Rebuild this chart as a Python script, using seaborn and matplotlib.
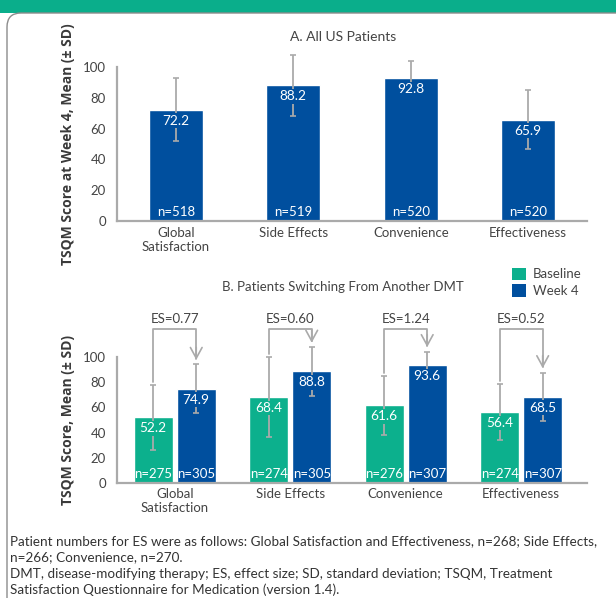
import numpy as np
import pandas as pd
import matplotlib
matplotlib.use("Agg")
import matplotlib.pyplot as plt
import seaborn as sns
from matplotlib.patches import Rectangle, FancyBboxPatch, Patch
from matplotlib.transforms import IdentityTransform

# Data
categories = ["Global\nSatisfaction", "Side Effects", "Convenience", "Effectiveness"]

# Panel A: all US patients at week 4
a_mean = [72.2, 88.2, 92.8, 65.9]
a_sd = [20.4, 19.8, 11.0, 19.3]
a_n = [518, 519, 520, 520]

# Panel B: patients switching from another DMT
b_base_mean = [52.2, 68.4, 61.6, 56.4]
b_base_sd = [26.0, 32.0, 23.5, 22.3]
b_base_n = [275, 274, 276, 274]
b_wk4_mean = [74.9, 88.8, 93.6, 68.5]
b_wk4_sd = [19.5, 19.3, 11.0, 19.3]
b_wk4_n = [305, 305, 307, 307]
es_values = [0.77, 0.60, 1.24, 0.52]

TEAL = "#0cb08d"
BLUE = "#004f9e"
GRAY = "#aaaaaa"
TXT = "#444444"

sns.set_style("white")
plt.rcParams["font.family"] = ["Lato", "DejaVu Sans"]

W, H = 616, 598
fig = plt.figure(figsize=(W / 100, H / 100), dpi=100)

# frame: green header and rounded gray box
fig.patches.append(Rectangle((0, 1 - 13 / H), 1, 13 / H, transform=fig.transFigure,
                             facecolor="#0aae8b", edgecolor="none", zorder=0))
fig.patches.append(FancyBboxPatch((7, -20), 640, H - 13 + 20,
                                  boxstyle="round,pad=0,rounding_size=14",
                                  transform=IdentityTransform(), facecolor="none",
                                  edgecolor="#8c8c8c", lw=1.0, zorder=1))


def style_axis(ax, ylabel):
    ax.set_ylim(0, 100)
    ax.set_yticks(range(0, 101, 20))
    sns.despine(ax=ax)
    for s in ("left", "bottom"):
        ax.spines[s].set_color(GRAY)
        ax.spines[s].set_linewidth(1.6)
    ax.tick_params(axis="y", length=5, width=1.3, color=GRAY, labelsize=9.5,
                   labelcolor=TXT, pad=3)
    ax.tick_params(axis="x", length=0, labelsize=9.5, labelcolor=TXT, pad=4)
    ax.set_xlabel("")
    ax.set_ylabel(ylabel, fontsize=10, fontweight="bold", color="#3a3a3a", labelpad=6,
                  family=["Open Sans", "DejaVu Sans"])


def add_errors(ax, xs, means, sds):
    eb = ax.errorbar(xs, means, yerr=sds, fmt="none", ecolor=GRAY, elinewidth=1.3,
                     capsize=2.5, capthick=1.2, zorder=3)
    for child in eb.get_children():
        child.set_clip_on(False)


def add_labels(ax, xs, means, ns, color):
    for x, m, n in zip(xs, means, ns):
        ax.annotate(f"{m:.1f}", (x, m), xytext=(0, -11), textcoords="offset pixels",
                    ha="center", va="center", color="white", fontsize=9.8, zorder=5,
                    bbox=dict(boxstyle="square,pad=0.1", fc=color, ec="none"))
        ax.annotate(f"n={n}", (x, 0), xytext=(0, 9), textcoords="offset pixels",
                    ha="center", va="center", color="white", fontsize=9.5, zorder=5)


# Panel A
axA = fig.add_axes([117 / W, 1 - 221 / H, 470 / W, 154 / H])
dfA = pd.DataFrame({"cat": categories, "mean": a_mean})
sns.barplot(data=dfA, x="cat", y="mean", color=BLUE, width=0.46, saturation=1,
            errorbar=None, ax=axA)
xA = [p.get_x() + p.get_width() / 2 for p in axA.patches]
add_errors(axA, xA, a_mean, a_sd)
add_labels(axA, xA, a_mean, a_n, BLUE)
axA.set_xlim(-0.5, 3.5)
style_axis(axA, "TSQM Score at Week 4, Mean (± SD)")
fig.text(343 / W, 1 - 37 / H, "A. All US Patients", ha="center", va="center",
         fontsize=10, color=TXT)

# Panel B
axB = fig.add_axes([117 / W, 1 - 482.7 / H, 470 / W, 125.4 / H])
dfB = pd.DataFrame({
    "cat": categories * 2,
    "mean": b_base_mean + b_wk4_mean,
    "time": ["Baseline"] * 4 + ["Week 4"] * 4,
})
sns.barplot(data=dfB, x="cat", y="mean", hue="time", palette=[TEAL, BLUE],
            width=0.745, gap=0.094, saturation=1, errorbar=None, legend=False, ax=axB)
xBase = [p.get_x() + p.get_width() / 2 for p in axB.containers[0]]
xWk4 = [p.get_x() + p.get_width() / 2 for p in axB.containers[1]]
add_errors(axB, xBase, b_base_mean, b_base_sd)
add_errors(axB, xWk4, b_wk4_mean, b_wk4_sd)
add_labels(axB, xBase, b_base_mean, b_base_n, TEAL)
add_labels(axB, xWk4, b_wk4_mean, b_wk4_n, BLUE)
axB.set_xlim(-0.5, 3.57)
style_axis(axB, "TSQM Score, Mean (± SD)")
fig.text(343 / W, 1 - 287 / H, "B. Patients Switching From Another DMT", ha="center",
         va="center", fontsize=9.5, color=TXT)

# effect size brackets
bracket_y = 122.3
for i, es in enumerate(es_values):
    x0, x1 = xBase[i], xWk4[i]
    y0 = b_base_mean[i] + b_base_sd[i] + 2.5
    y1 = b_wk4_mean[i] + b_wk4_sd[i] + 3.5
    axB.plot([x0, x0, x1, x1], [y0, bracket_y, bracket_y, y1 + 1], color=GRAY,
             lw=1.3, clip_on=False, zorder=2)
    axB.annotate("", xy=(x1, y1), xytext=(x1, y1 + 10),
                 arrowprops=dict(arrowstyle="->,head_length=0.55,head_width=0.3",
                                 mutation_scale=14, color=GRAY, lw=1.2,
                                 shrinkA=0, shrinkB=0),
                 annotation_clip=False)
    axB.text((x0 + x1) / 2, 130.5, f"ES={es:.2f}", ha="center", va="center",
             fontsize=9.5, color=TXT, clip_on=False)

handles = [Patch(facecolor=TEAL, edgecolor="none", label="Baseline"),
           Patch(facecolor=BLUE, edgecolor="none", label="Week 4")]
fig.legend(handles=handles, loc="upper left", bbox_to_anchor=(505 / W, 1 - 261 / H),
           frameon=False, fontsize=9.5, handlelength=1.1, handleheight=1.1,
           handletextpad=0.5, labelspacing=0.3, labelcolor=TXT, borderpad=0)

# footnotes
notes = [
    "Patient numbers for ES were as follows: Global Satisfaction and Effectiveness, n=268; Side Effects,",
    "n=266; Convenience, n=270.",
    "DMT, disease-modifying therapy; ES, effect size; SD, standard deviation; TSQM, Treatment",
    "Satisfaction Questionnaire for Medication (version 1.4).",
]
for k, line in enumerate(notes):
    fig.text(10 / W, 1 - (541 + 16.4 * k) / H, line, ha="left", va="center",
             fontsize=9.7, color="#333333")

fig.savefig("out.png", dpi=100)
